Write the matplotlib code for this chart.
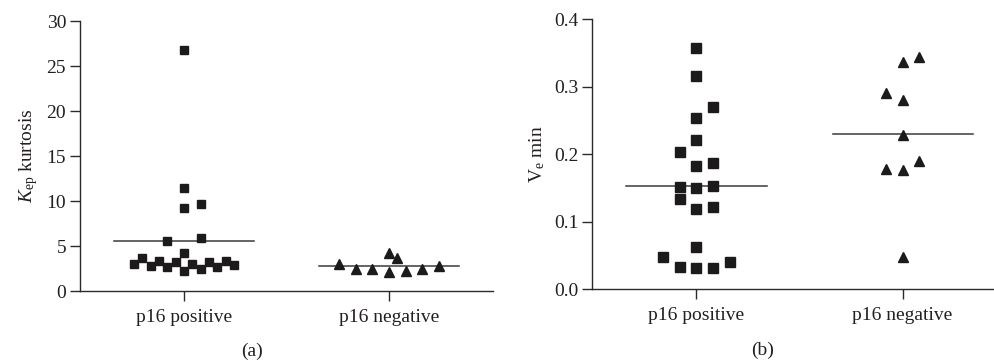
import matplotlib
matplotlib.use("Agg")
import matplotlib.pyplot as plt
import numpy as np

# Group names and tick labels
groups = ["p16 positive", "p16 negative"]

# Kep kurtosis values (panel a)
kep_pos = [26.8, 11.5, 9.2, 9.7, 5.6, 5.9, 4.2, 3.0, 3.63, 2.81, 3.33, 2.70,
           3.26, 2.26, 2.96, 2.48, 3.19, 2.70, 3.37, 2.89]
kep_pos_slot = [0, 0, 0, 2, -2, 2, 0, -6, -5, -4, -3, -2, -1, 0, 1, 2, 3, 4, 5, 6]
kep_neg = [2.96, 2.41, 2.41, 4.26, 3.70, 2.07, 2.26, 2.41, 2.78]
kep_neg_slot = [-6, -4, -2, 0, 1, 0, 2, 4, 6]

# Ve min values (panel b)
ve_pos = [0.3565, 0.3155, 0.269, 0.254, 0.2205, 0.203, 0.187, 0.182, 0.151, 0.150,
          0.153, 0.133, 0.118, 0.122, 0.062, 0.048, 0.033, 0.031, 0.031, 0.040]
ve_pos_slot = [0, 0, 2, 0, 0, -2, 2, 0, -2, 0, 2, -2, 0, 2, 0, -4, -2, 0, 2, 4]
ve_neg = [0.337, 0.343, 0.291, 0.280, 0.228, 0.1775, 0.176, 0.189, 0.048]
ve_neg_slot = [0, 2, -2, 0, 0, -2, 0, 2, 0]

SLOT = 0.0407
HALF = 0.34
INK = "#1c1a1b"
TXT = "#231f20"
FS = 14

plt.rcParams["font.family"] = ["Liberation Serif", "DejaVu Serif"]
plt.rcParams["mathtext.fontset"] = "custom"
plt.rcParams["mathtext.rm"] = "Liberation Serif"
plt.rcParams["mathtext.it"] = "Liberation Serif:italic"

fig = plt.figure(figsize=(9.95, 3.64), dpi=100)
ax_a = fig.add_axes([0.0804, 0.2005, 0.4151, 0.7418])
ax_b = fig.add_axes([0.5950, 0.2060, 0.4171, 0.7418])


def draw_group(ax, xc, vals, slots, marker, ms):
    xs = xc + np.array(slots) * SLOT
    ax.plot(xs, vals, linestyle="none", marker=marker, ms=ms,
            color=INK, mec=INK, zorder=3)
    m = np.mean(vals)
    ax.plot([xc - HALF, xc + HALF], [m, m], color="#3a3a3a", lw=1.1, zorder=2)


def style(ax, ylim, yticks, fmt, ylabel):
    ax.set_xlim(-0.507, 1.507)
    ax.set_ylim(*ylim)
    ax.set_yticks(yticks)
    ax.set_yticklabels([fmt.format(v) for v in yticks])
    ax.set_xticks([0, 1])
    ax.set_xticklabels(groups)
    for s in ("top", "right"):
        ax.spines[s].set_visible(False)
    for s in ("left", "bottom"):
        ax.spines[s].set_color("#2a2a2a")
        ax.spines[s].set_linewidth(1.0)
    ax.tick_params(direction="out", length=7, width=1.0, color="#2a2a2a",
                   labelsize=FS, labelcolor=TXT, pad=3)
    ax.tick_params(axis="x", pad=6)
    ax.set_ylabel(ylabel, fontsize=FS, color=TXT, labelpad=5)


draw_group(ax_a, 0, kep_pos, kep_pos_slot, "s", 6.2)
draw_group(ax_a, 1, kep_neg, kep_neg_slot, "^", 6.8)
style(ax_a, (0, 30), [0, 5, 10, 15, 20, 25, 30], "{:d}", r"$K_{\mathrm{ep}}$ kurtosis")

draw_group(ax_b, 0, ve_pos, ve_pos_slot, "s", 6.6)
draw_group(ax_b, 1, ve_neg, ve_neg_slot, "^", 7.0)
style(ax_b, (0, 0.4), [0.0, 0.1, 0.2, 0.3, 0.4], "{:.1f}", r"$\mathrm{V}_{\mathrm{e}}$ min")

fig.text(252 / 995, 1 - 351 / 364, "(a)", ha="center", va="center", fontsize=FS, color=TXT)
fig.text(763 / 995, 1 - 350 / 364, "(b)", ha="center", va="center", fontsize=FS, color=TXT)

fig.savefig("out.png", dpi=100)
